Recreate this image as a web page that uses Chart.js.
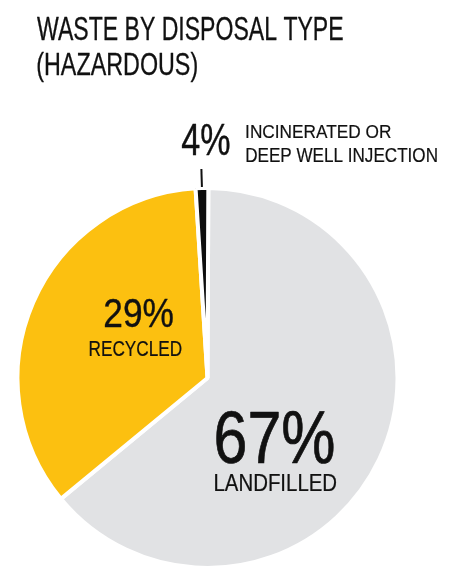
<!DOCTYPE html>
<html>
<head>
<meta charset="utf-8">
<script src="https://cdn.jsdelivr.net/npm/chart.js@4"></script>
<style>
  html, body { margin: 0; padding: 0; background: #fff; }
  #wrap { width: 459px; height: 571px; position: relative; }
</style>
</head>
<body>
<div id="wrap"><canvas id="waste-chart" width="459" height="571"></canvas></div>
<script>
// Dados (ângulos das fatias) e textos impressos
const categories = ['LANDFILLED', 'RECYCLED', 'INCINERATED OR DEEP WELL INJECTION'];
const sliceShares = [63.96, 34.97, 1.07];
const printedPercents = ['67%', '29%', '4%'];
const sliceColors = ['#e1e2e4', '#fcc010', '#0d0d0d'];
const titleLines = ['WASTE BY DISPOSAL TYPE', '(HAZARDOUS)'];

const FONT = '"Liberation Sans", Arial, sans-serif';
const INK = '#111111';

// desenha texto condensado: altura de maiúscula e largura medidas na figura
function fitText(ctx, text, left, baseline, capHeight, width) {
    ctx.save();
    ctx.font = '100px ' + FONT;
    const capRatio = ctx.measureText('H').actualBoundingBoxAscent / 100;
    const size = capHeight / capRatio;
    ctx.font = size + 'px ' + FONT;
    const m = ctx.measureText(text);
    const w = m.actualBoundingBoxLeft + m.actualBoundingBoxRight;
    const sx = width / w;
    ctx.translate(left, baseline);
    ctx.scale(sx, 1);
    ctx.fillStyle = INK;
    ctx.strokeStyle = INK;
    ctx.lineWidth = size * 0.01;
    ctx.lineJoin = 'round';
    ctx.textBaseline = 'alphabetic';
    ctx.textAlign = 'left';
    ctx.fillText(text, m.actualBoundingBoxLeft, 0);
    ctx.strokeText(text, m.actualBoundingBoxLeft, 0);
    ctx.restore();
}

const labelPlugin = {
    id: 'wasteLabels',
    afterDraw(chart) {
        const ctx = chart.ctx;

        // título
        fitText(ctx, titleLines[0], 37, 39.5, 22.6, 306);
        fitText(ctx, titleLines[1], 37, 74.5, 22.0, 160);

        // traço acima da fatia preta
        const arc = chart.getDatasetMeta(0).data[2];
        const mid = (arc.startAngle + arc.endAngle) / 2;
        const r = arc.outerRadius;
        ctx.save();
        ctx.strokeStyle = INK;
        ctx.lineWidth = 2;
        ctx.beginPath();
        ctx.moveTo(arc.x + Math.cos(mid) * (r + 1), arc.y + Math.sin(mid) * (r + 1));
        ctx.lineTo(arc.x + Math.cos(mid) * (r + 19), arc.y + Math.sin(mid) * (r + 19));
        ctx.stroke();
        ctx.restore();

        // rótulos das fatias
        fitText(ctx, printedPercents[2], 182, 155, 30, 48);
        fitText(ctx, 'INCINERATED OR', 246, 138.3, 13.3, 145.5);
        fitText(ctx, 'DEEP WELL INJECTION', 246, 162.3, 13.5, 191);

        fitText(ctx, printedPercents[1], 105, 326.7, 28.3, 67.7);
        fitText(ctx, categories[1], 89.3, 356, 15, 92.4);

        fitText(ctx, printedPercents[0], 216, 462.7, 51, 118);
        fitText(ctx, categories[0], 214.3, 491, 16.7, 122.4);
    }
};

const ctx = document.getElementById('waste-chart').getContext('2d');
const wasteChart = new Chart(ctx, {
    type: 'pie',
    data: {
        labels: categories,
        datasets: [{
            data: sliceShares,
            backgroundColor: sliceColors,
            borderColor: '#ffffff',
            borderWidth: 4
        }]
    },
    options: {
        responsive: false,
        animation: false,
        rotation: 0.25,
        radius: 190,
        layout: { padding: { left: 20, right: 64, top: 190, bottom: 5 } },
        plugins: {
            legend: { display: false },
            tooltip: { enabled: false },
            title: { display: false }
        }
    },
    plugins: [labelPlugin]
});
</script>
</body>
</html>
